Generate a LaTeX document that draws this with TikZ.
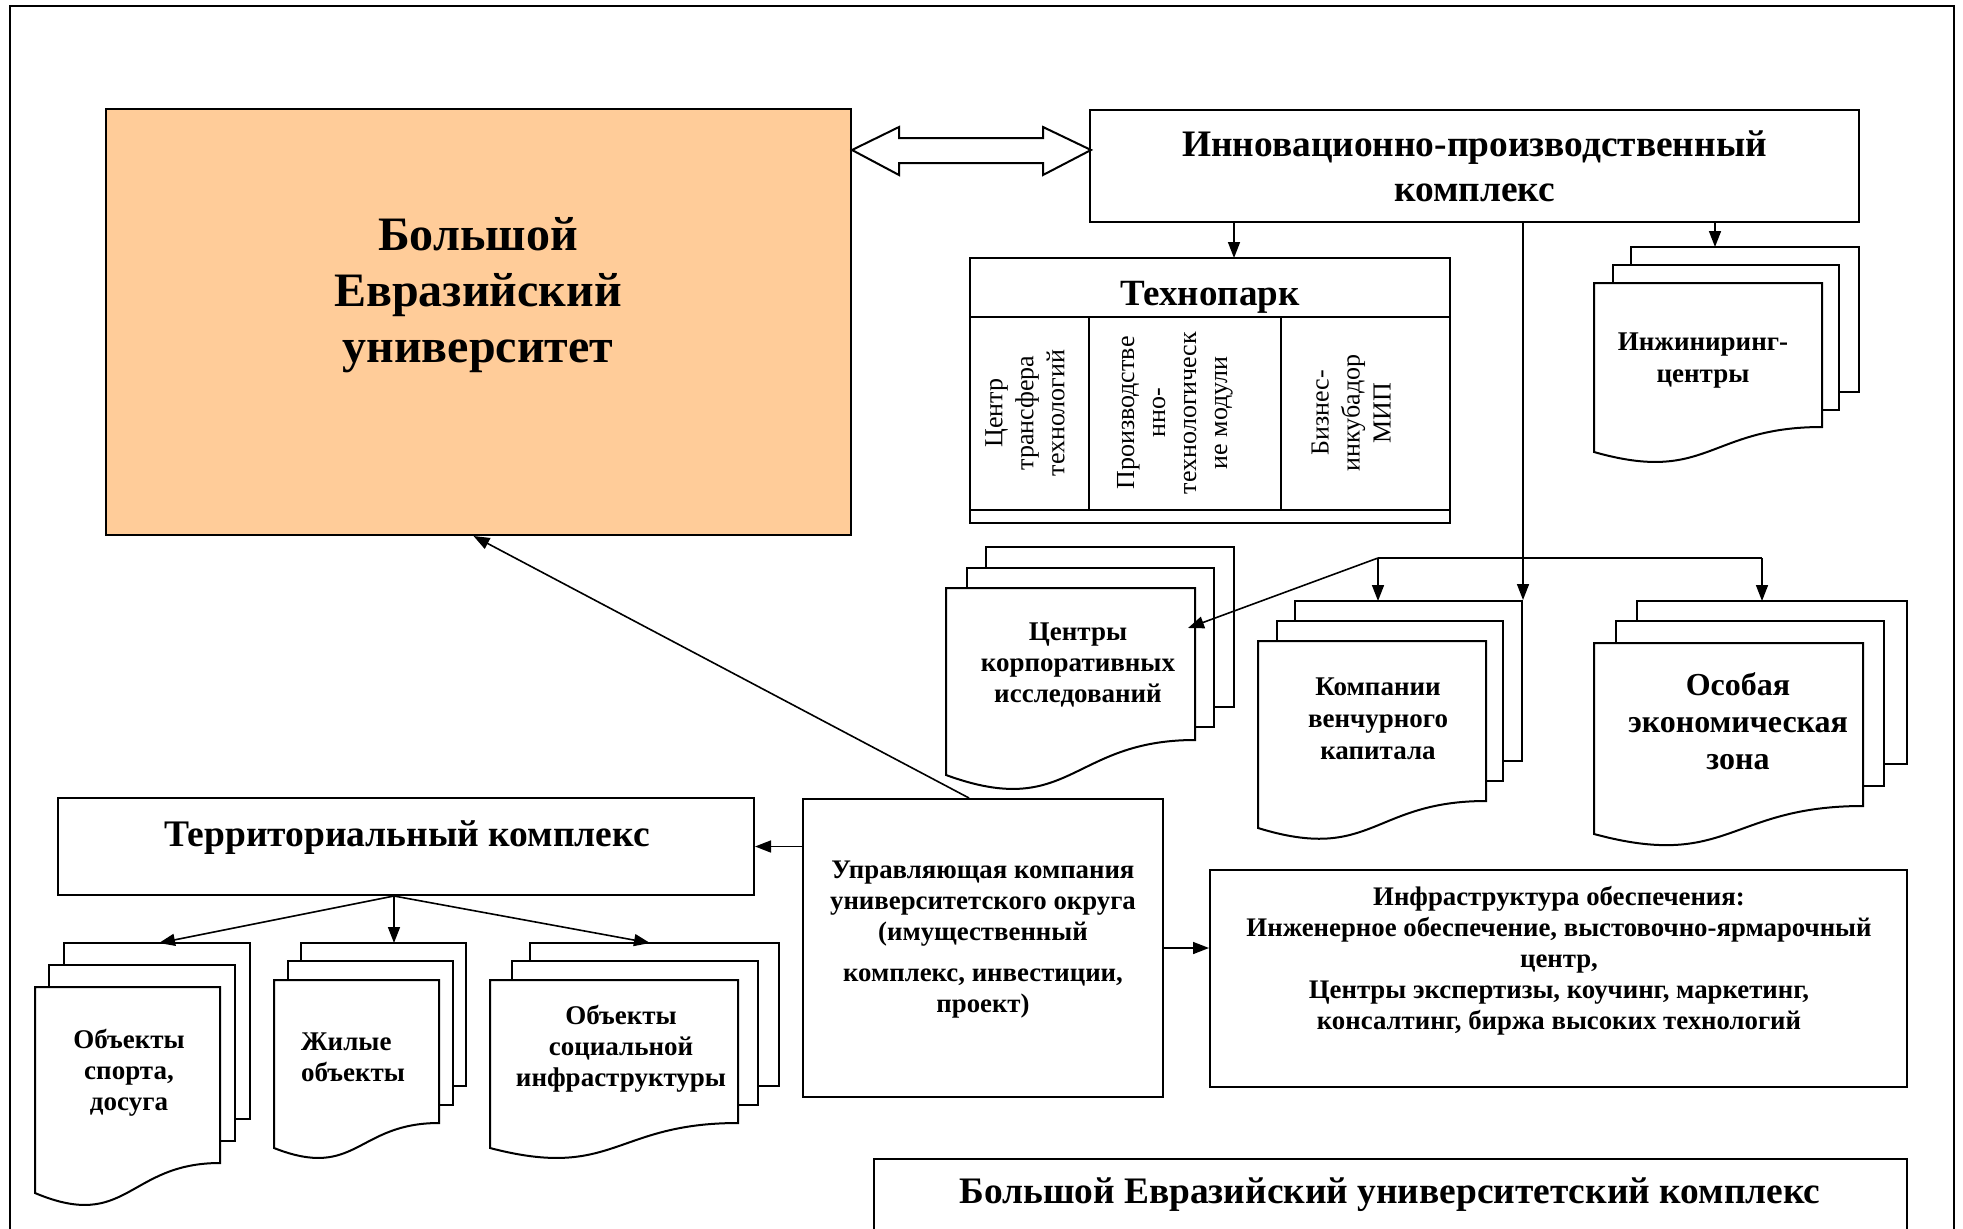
\documentclass[tikz,border=0pt]{standalone}
\usepackage{fontspec}
\setmainfont{Liberation Serif}
\usetikzlibrary{arrows.meta, fit, calc}

\definecolor{peach}{RGB}{255,204,153}
\newcommand\fsz[2]{\fontsize{#1}{#2}\selectfont}
% front sheet of a stack: left, top, right, right foot, left foot
\newcommand\frontdoc[5]{%
  \draw[sheet] (#1,#2) -- (#3,#2) -- (#3,#4)
    .. controls ({(#1+#3)/2},#4) and ({(#1+#3)/2},{#4+2.3*(#5-#4)}) .. (#1,#5) -- cycle;}

\tikzset{
  box/.style={draw, line width=2pt, inner sep=0pt},
  sheet/.style={draw, fill=white, line width=2pt, inner sep=0pt},
  arr/.style={line width=1.6pt, -{Triangle[length=16pt,width=12pt]}},
  txt/.style={align=center, inner sep=0pt},
}

\begin{document}
\begin{tikzpicture}[x=1pt, y=-1pt]
\useasboundingbox (0,0) rectangle (1963,1229);
% outer frame
\draw[line width=2pt] (10,1229) -- (10,6) -- (1954,6) -- (1954,1229);

% university
\node[box, fill=peach, fit={(106,109) (851,535)}] (beu) {};
\node[txt, font=\fsz{48}{56}\bfseries] (beu-t) at (478,295) {Большой\\Евразийский\\университет};

% innovation complex
\node[box, fit={(1090,110) (1859,222)}] (innov) {};
\node[txt, font=\fsz{37.4}{45}\bfseries] (innov-t) at (innov) {Инновационно-производственный\\комплекс};
\draw[line width=2pt, fill=white] ($(beu.north east)+(0,42)$) -- ++(47,-23) -- ++(0,11) -- ++(144,0)
  -- ++(0,-11) -- ++(48,23) -- ++(-48,25) -- ++(0,-12) -- ++(-144,0) -- ++(0,12) -- cycle;

% technopark
\node[box, fit={(970,258) (1450,523)}] (tp) {};
\draw[line width=2pt] ([yshift=-60pt]tp.north west) -- ([yshift=-60pt]tp.north east);
\draw[line width=2pt] ([yshift=14pt]tp.south west) -- ([yshift=14pt]tp.south east);
\foreach \dx in {120,312}
  \draw[line width=2pt] ([xshift=\dx pt, yshift=-60pt]tp.north west) -- ([xshift=\dx pt, yshift=14pt]tp.south west);
\node[txt, font=\fsz{37}{44}\bfseries] (tp-t) at (1210,297) {Технопарк};
\node[txt, font=\fsz{26}{31}, rotate=90] (tp-a) at (1025,413) {Центр\\трансфера\\технологий};
\node[txt, font=\fsz{26}{31}, rotate=90] (tp-b) at (1175,413) {Производстве\\нно-\\технологическ\\ие модули};
\node[txt, font=\fsz{26}{31}, rotate=90] (tp-c) at (1351,413) {Бизнес-\\инкубадор\\МИП};

% engineering centres
\node[sheet, fit={(1631,247) (1859,392)}] (eng3) {};
\node[sheet, fit={(1613,265) (1839,410)}] (eng2) {};
\frontdoc{1594}{283}{1822}{427}{452}
\node[txt, font=\fsz{27}{32}\bfseries] (eng-t) at (1703,361) {Инжиниринг-\\центры};

% corporate research
\node[sheet, fit={(986,547) (1234,707)}] (cor3) {};
\node[sheet, fit={(967,568) (1214,727)}] (cor2) {};
\frontdoc{946}{588}{1195}{740}{775}
\node[txt, font=\fsz{27}{31}\bfseries] (cor-t) at (1078,665) {Центры\\корпоративных\\исследований};

% venture capital
\node[sheet, fit={(1295,601) (1522,761)}] (ven3) {};
\node[sheet, fit={(1277,621) (1503,781)}] (ven2) {};
\frontdoc{1258}{641}{1486}{801}{828}
\node[txt, font=\fsz{27}{32}\bfseries] (ven-t) at (1378,719) {Компании\\венчурного\\капитала};

% special economic zone
\node[sheet, fit={(1637,601) (1907,764)}] (sez3) {};
\node[sheet, fit={(1616,621) (1884,786)}] (sez2) {};
\frontdoc{1594}{643}{1863}{806}{834}
\node[txt, font=\fsz{32}{37}\bfseries] (sez-t) at (1738,721) {Особая\\экономическая\\зона};

% links from the innovation complex
\coordinate (tp-in) at (1234,258);
\coordinate (eng-in) at (1715,247);
\coordinate (ven-in) at (1378,601);
\coordinate (sez-in) at (1762,601);
\coordinate (cor-in) at (1188,628);
\coordinate (fork) at (1522,558);
\draw[arr] (innov.south -| tp-in) -- (tp-in);
\draw[arr] (innov.south -| eng-in) -- (eng-in);
\draw[arr] (innov.south -| ven3.north east) -- (ven3.north east);
\draw[line width=1.6pt] (fork -| ven-in) -- (fork -| sez-in);
\draw[arr] (fork -| ven-in) -- (ven-in);
\draw[arr] (fork -| sez-in) -- (sez-in);
\draw[arr] (fork -| ven-in) -- (cor-in);

% management company
\node[box, fit={(803,799) (1163,1097)}] (mgmt) {};
\node[txt, font=\fsz{26.8}{31}\bfseries] (mgmt-t) at (983,940) {Управляющая компания\\университетского округа\\(имущественный\\[10pt]комплекс, инвестиции,\\проект)};
\draw[arr] ([xshift=-14pt]mgmt.north) -- ([xshift=-5pt]beu.south);

% territorial complex
\node[box, fit={(58,798) (754,895)}] (terr) {};
\node[txt, font=\fsz{37.5}{44}\bfseries] (terr-t) at (407,838) {Территориальный комплекс};
\draw[arr] (mgmt.west |- terr.east) -- (terr.east);

% support infrastructure
\node[box, fit={(1210,870) (1907,1087)}] (infra) {};
\node[txt, font=\fsz{26.8}{31}\bfseries] (infra-t) at (1559,961) {Инфраструктура обеспечения:\\Инженерное обеспечение, выстовочно-ярмарочный\\центр,\\Центры экспертизы, коучинг, маркетинг,\\консалтинг, биржа высоких технологий};
\draw[arr] (mgmt.east) -- (mgmt.east -| infra.west);

% territorial objects
\node[sheet, fit={(64,943) (250,1119)}] (spo3) {};
\node[sheet, fit={(49,965) (235,1141)}] (spo2) {};
\frontdoc{35}{987}{220}{1163}{1193}
\node[txt, font=\fsz{27}{31}\bfseries] (spo-t) at (129,1073) {Объекты\\спорта,\\досуга};

\node[sheet, fit={(301,943) (466,1086)}] (liv3) {};
\node[sheet, fit={(288,961) (453,1105)}] (liv2) {};
\frontdoc{274}{980}{439}{1123}{1148}
\node[txt, font=\fsz{27}{31}\bfseries, align=left] (liv-t) at (353,1057) {Жилые\\объекты};

\node[sheet, fit={(530,943) (779,1086)}] (soc3) {};
\node[sheet, fit={(512,961) (758,1105)}] (soc2) {};
\frontdoc{490}{980}{738}{1123}{1148}
\node[txt, font=\fsz{27}{31}\bfseries] (soc-t) at (621,1049) {Объекты\\социальной\\инфраструктуры};

\coordinate (spo-in) at (159,943);
\coordinate (liv-in) at (394,943);
\coordinate (soc-in) at (650,943);
\foreach \t in {spo-in, liv-in, soc-in}
  \draw[arr] ([xshift=-12pt]terr.south) -- (\t);

% whole complex
\node[txt, font=\fsz{37.4}{44}\bfseries] (bec-t) at (1390,1195) {Большой Евразийский университетский комплекс};
\draw[line width=2pt] (874,1229) -- (874,1159) -- (1907,1159) -- (1907,1229);
\end{tikzpicture}
\end{document}
